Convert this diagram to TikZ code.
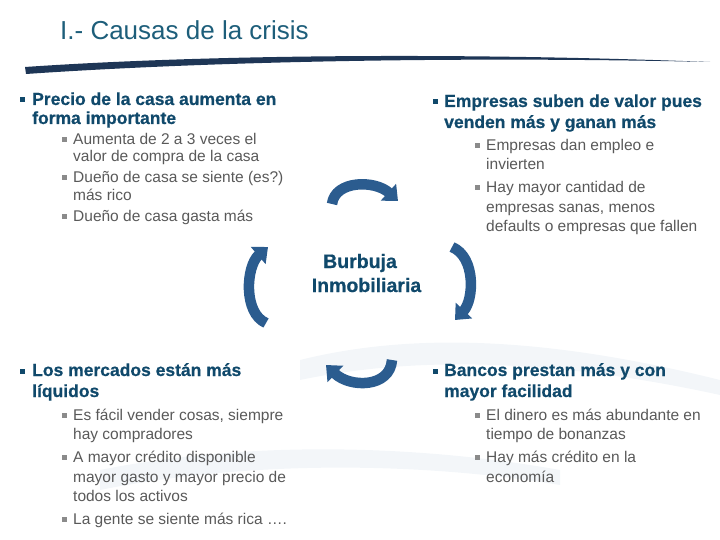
\documentclass[tikz,border=0pt]{standalone}
\usepackage{fontspec}
\setmainfont{Liberation Sans}
\usetikzlibrary{arrows.meta}
\definecolor{titlec}{HTML}{1D5E7A}
\definecolor{headc}{HTML}{10496B}
\definecolor{subc}{HTML}{595959}
\definecolor{arrc}{HTML}{2B5C8F}
\definecolor{swc}{HTML}{1E3656}
\definecolor{wm}{HTML}{F3F6F9}
\tikzset{
  head/.style={anchor=base west, inner sep=0pt, text=headc, font=\fontsize{17.5}{19}\selectfont\bfseries\addfontfeature{FakeBold=0.6}},
  sub/.style={anchor=base west, inner sep=0pt, text=subc, font=\fontsize{15.5}{17}\selectfont},
  center/.style={anchor=base, inner sep=0pt, text=headc, font=\fontsize{19.5}{22}\selectfont\bfseries\addfontfeature{FakeBold=0.6}},
  hbul/.style={fill=headc, minimum size=5pt, inner sep=0pt},
  sbul/.style={fill=subc!70, minimum size=5pt, inner sep=0pt},
  cyc/.style={draw=arrc, line width=10.5pt, -{Triangle[width=22pt,length=13pt]}},
}
\begin{document}
\begin{tikzpicture}[x=1pt,y=-1pt]
\useasboundingbox (0,0) rectangle (720,540);
% faint watermark
\fill[wm] (300,360) .. controls (420,330) and (560,340) .. (720,380) -- (720,395) .. controls (560,360) and (420,355) .. (300,380) -- cycle;
\fill[wm] (100,470) .. controls (250,440) and (420,445) .. (560,470) -- (560,485) .. controls (420,462) and (250,460) .. (100,490) -- cycle;
% title
\node[anchor=base west, inner sep=0pt, text=titlec, font=\fontsize{26}{28}\selectfont] (title) at (60,40) {I.- Causas de la crisis};
\fill[swc] (25,67) .. controls (200,55) and (450,52) .. (710,62) .. controls (450,56) and (200,62) .. (26,74) -- cycle;
% top left
\node[hbul] (b1) at (22.5,100) {};
\node[head] (tl1) at (32,105) {Precio de la casa aumenta en};
\node[head] (tl2) at (32,124) {forma importante};
\node[sbul] (s11) at (64,140) {};
\node[sub] (tl3) at (73,145) {Aumenta de 2 a 3 veces el};
\node[sub] (tl4) at (73,162) {valor de compra de la casa};
\node[sbul] (s12) at (64,178) {};
\node[sub] (tl5) at (73,183) {Dueño de casa se siente (es?)};
\node[sub] (tl6) at (73,201) {más rico};
\node[sbul] (s13) at (64,217) {};
\node[sub] (tl7) at (73,222) {Dueño de casa gasta más};
% top right
\node[hbul] (b2) at (435.5,102) {};
\node[head] (tr1) at (444,107) {Empresas suben de valor pues};
\node[head] (tr2) at (444,128) {venden más y ganan más};
\node[sbul] (s21) at (477,146) {};
\node[sub] (tr3) at (486,151) {Empresas dan empleo e};
\node[sub] (tr4) at (486,170) {invierten};
\node[sbul] (s22) at (477,188) {};
\node[sub] (tr5) at (486,193) {Hay mayor cantidad de};
\node[sub] (tr6) at (486,212) {empresas sanas, menos};
\node[sub] (tr7) at (486,231) {defaults o empresas que fallen};
% center
\node[center] (c1) at (360,268) {Burbuja};
\node[center] (c2) at (366.5,292) {Inmobiliaria};
% bottom left
\node[hbul] (b3) at (22.5,371) {};
\node[head] (bl1) at (32,376) {Los mercados están más};
\node[head] (bl2) at (32,397) {líquidos};
\node[sbul] (s31) at (64,415) {};
\node[sub] (bl3) at (73,420) {Es fácil vender cosas, siempre};
\node[sub] (bl4) at (73,439) {hay compradores};
\node[sbul] (s32) at (64,457) {};
\node[sub] (bl5) at (73,462) {A mayor crédito disponible};
\node[sub] (bl6) at (73,482) {mayor gasto y mayor precio de};
\node[sub] (bl7) at (73,501) {todos los activos};
\node[sbul] (s33) at (64,519) {};
\node[sub] (bl8) at (73,524) {La gente se siente más rica ….};
% bottom right
\node[hbul] (b4) at (435.5,371) {};
\node[head] (br1) at (444,376) {Bancos prestan más y con};
\node[head] (br2) at (444,397) {mayor facilidad};
\node[sbul] (s41) at (477,415) {};
\node[sub] (br3) at (486,420) {El dinero es más abundante en};
\node[sub] (br4) at (486,439) {tiempo de bonanzas};
\node[sbul] (s42) at (477,457) {};
\node[sub] (br5) at (486,462) {Hay más crédito en la};
\node[sub] (br6) at (486,482) {economía};
% cycle arrows
\coordinate (a1s) at (332,204); \coordinate (a1e) at (398,201);
\coordinate (a2s) at (452,247); \coordinate (a2e) at (455,320);
\coordinate (a3s) at (392,360); \coordinate (a3e) at (326,365);
\coordinate (a4s) at (266,323); \coordinate (a4e) at (268,247);
\draw[cyc] (a1s) .. controls (335,180) and (375,180) .. (a1e);
\draw[cyc] (a2s) .. controls (476,257) and (474,300) .. (a2e);
\draw[cyc] (a3s) .. controls (390,388) and (350,388) .. (a3e);
\draw[cyc] (a4s) .. controls (243,313) and (246,266) .. (a4e);
\end{tikzpicture}
\end{document}
